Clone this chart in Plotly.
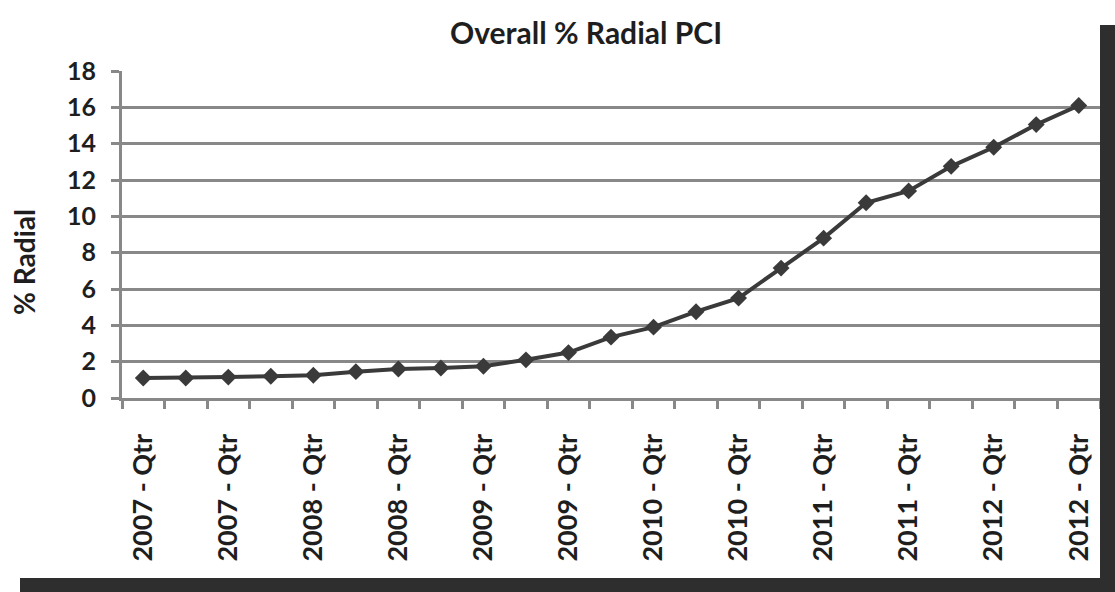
import plotly.graph_objects as go

# Quarterly share of PCI procedures performed via radial access
categories = [f"{y} - Qtr {q}" for y in range(2007, 2013) for q in range(1, 5)][:23]
radial_pct = [1.1, 1.1, 1.15, 1.2, 1.25, 1.45, 1.6, 1.65, 1.75, 2.1, 2.5, 3.35,
              3.9, 4.75, 5.5, 7.15, 8.8, 10.75, 11.4, 12.75, 13.8, 15.05, 16.1]
tick_labels = ["2007 - Qtr", "", "2007 - Qtr", "", "2008 - Qtr", "", "2008 - Qtr", "",
               "2009 - Qtr", "", "2009 - Qtr", "", "2010 - Qtr", "", "2010 - Qtr", "",
               "2011 - Qtr", "", "2011 - Qtr", "", "2012 - Qtr", "", "2012 - Qtr"]
y_ticks = list(range(0, 19, 2))

W, H = 1115, 592
L, R, T, B = 122, 15, 71, 194
pw, ph = W - L - R, H - T - B

def px_x(p):
    return (p - L) / pw

def px_y(p):
    return (H - B - p) / ph

FONT = "Lato"
DARK = "#3a3a3a"
GRID = "#888888"
TEXT = "#1e1e1e"

fig = go.Figure()
fig.add_trace(go.Scatter(
    x=categories, y=radial_pct, mode="lines+markers",
    line=dict(color=DARK, width=4),
    marker=dict(symbol="diamond", size=13, color=DARK),
    showlegend=False,
))

fig.update_layout(
    width=W, height=H,
    margin=dict(l=L, r=R, t=T, b=B),
    paper_bgcolor="white", plot_bgcolor="white",
    title=dict(text="<b>Overall % Radial PCI</b>", x=586 / W, xanchor="center",
               y=1 - 33 / H, yanchor="middle",
               font=dict(family=FONT, size=30, color=TEXT)),
    xaxis=dict(
        type="category", tickmode="array", tickvals=categories, ticktext=tick_labels,
        tickson="boundaries", ticks="outside", ticklen=8, tickwidth=3, tickcolor=GRID,
        tickangle=-90, showgrid=False, showline=True, linecolor=GRID, linewidth=3,
        ticklabelstandoff=22,
        tickfont=dict(family=FONT, size=27, color=TEXT, weight="bold"),
        range=[-0.5, len(categories) - 0.5],
    ),
    yaxis=dict(
        range=[0, 18], tickvals=y_ticks, ticks="outside", ticklen=8, tickwidth=3,
        tickcolor=GRID, showgrid=True, gridcolor=GRID, gridwidth=3,
        showline=True, linecolor=GRID, linewidth=3, zeroline=False,
        ticklabelstandoff=10,
        tickfont=dict(family=FONT, size=25, color=TEXT, weight="bold"),
    ),
)

# y-axis caption, sitting a little below the middle of the value range
fig.add_annotation(text="<b>% Radial</b>", xref="paper", yref="paper",
                   x=px_x(24), y=px_y(262), xanchor="center", yanchor="middle",
                   textangle=-90, showarrow=False,
                   font=dict(family=FONT, size=28, color=TEXT))

# dark frame edges along the right and bottom of the page
BAR = "#2e2e2e"
fig.add_shape(type="rect", xref="paper", yref="paper", layer="above",
              x0=px_x(1100), x1=px_x(W + 2), y0=px_y(H + 2), y1=px_y(25),
              fillcolor=BAR, line_width=0)
fig.add_shape(type="rect", xref="paper", yref="paper", layer="above",
              x0=px_x(20), x1=px_x(W + 2), y0=px_y(H + 2), y1=px_y(578),
              fillcolor=BAR, line_width=0)

fig.write_html("out.html")
